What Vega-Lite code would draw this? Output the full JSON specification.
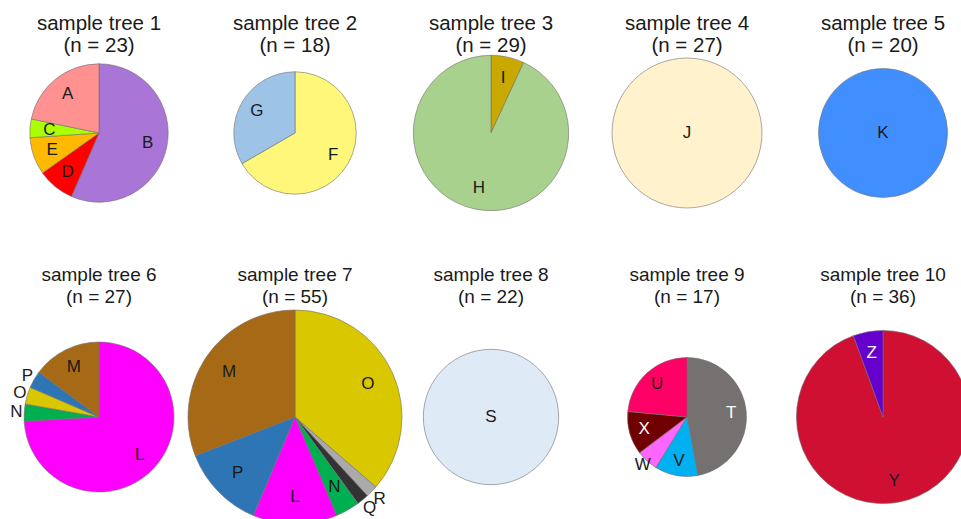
{
  "$schema": "https://vega.github.io/schema/vega-lite/v6.json",
  "padding": {"left": 10, "top": 13, "right": 0, "bottom": 0},
  "background": "white",
  "config": {"view": {"stroke": null}, "font": "Liberation Sans"},
  "data": {"values": [
    {"tree": 1, "panel": "sample tree 1|(n = 23)", "n": 23, "k": 1, "label": "B", "count": 13},
    {"tree": 1, "panel": "sample tree 1|(n = 23)", "n": 23, "k": 2, "label": "D", "count": 2},
    {"tree": 1, "panel": "sample tree 1|(n = 23)", "n": 23, "k": 3, "label": "E", "count": 2},
    {"tree": 1, "panel": "sample tree 1|(n = 23)", "n": 23, "k": 4, "label": "C", "count": 1},
    {"tree": 1, "panel": "sample tree 1|(n = 23)", "n": 23, "k": 5, "label": "A", "count": 5},
    {"tree": 2, "panel": "sample tree 2|(n = 18)", "n": 18, "k": 1, "label": "F", "count": 12},
    {"tree": 2, "panel": "sample tree 2|(n = 18)", "n": 18, "k": 2, "label": "G", "count": 6},
    {"tree": 3, "panel": "sample tree 3|(n = 29)", "n": 29, "k": 1, "label": "I", "count": 2},
    {"tree": 3, "panel": "sample tree 3|(n = 29)", "n": 29, "k": 2, "label": "H", "count": 27},
    {"tree": 4, "panel": "sample tree 4|(n = 27)", "n": 27, "k": 1, "label": "J", "count": 27},
    {"tree": 5, "panel": "sample tree 5|(n = 20)", "n": 20, "k": 1, "label": "K", "count": 20},
    {"tree": 6, "panel": "sample tree 6|(n = 27)", "n": 27, "k": 1, "label": "L", "count": 20},
    {"tree": 6, "panel": "sample tree 6|(n = 27)", "n": 27, "k": 2, "label": "N", "count": 1},
    {"tree": 6, "panel": "sample tree 6|(n = 27)", "n": 27, "k": 3, "label": "O", "count": 1},
    {"tree": 6, "panel": "sample tree 6|(n = 27)", "n": 27, "k": 4, "label": "P", "count": 1},
    {"tree": 6, "panel": "sample tree 6|(n = 27)", "n": 27, "k": 5, "label": "M", "count": 4},
    {"tree": 7, "panel": "sample tree 7|(n = 55)", "n": 55, "k": 1, "label": "O", "count": 20},
    {"tree": 7, "panel": "sample tree 7|(n = 55)", "n": 55, "k": 2, "label": "R", "count": 1},
    {"tree": 7, "panel": "sample tree 7|(n = 55)", "n": 55, "k": 3, "label": "Q", "count": 1},
    {"tree": 7, "panel": "sample tree 7|(n = 55)", "n": 55, "k": 4, "label": "N", "count": 2},
    {"tree": 7, "panel": "sample tree 7|(n = 55)", "n": 55, "k": 5, "label": "L", "count": 7},
    {"tree": 7, "panel": "sample tree 7|(n = 55)", "n": 55, "k": 6, "label": "P", "count": 7},
    {"tree": 7, "panel": "sample tree 7|(n = 55)", "n": 55, "k": 7, "label": "M", "count": 17},
    {"tree": 8, "panel": "sample tree 8|(n = 22)", "n": 22, "k": 1, "label": "S", "count": 22},
    {"tree": 9, "panel": "sample tree 9|(n = 17)", "n": 17, "k": 1, "label": "T", "count": 8},
    {"tree": 9, "panel": "sample tree 9|(n = 17)", "n": 17, "k": 2, "label": "V", "count": 2},
    {"tree": 9, "panel": "sample tree 9|(n = 17)", "n": 17, "k": 3, "label": "W", "count": 1},
    {"tree": 9, "panel": "sample tree 9|(n = 17)", "n": 17, "k": 4, "label": "X", "count": 2},
    {"tree": 9, "panel": "sample tree 9|(n = 17)", "n": 17, "k": 5, "label": "U", "count": 4},
    {"tree": 10, "panel": "sample tree 10|(n = 36)", "n": 36, "k": 1, "label": "Y", "count": 34},
    {"tree": 10, "panel": "sample tree 10|(n = 36)", "n": 36, "k": 2, "label": "Z", "count": 2}
  ]},
  "resolve": {"scale": {"radius": "independent"}},
  "spacing": 54,
  "vconcat": [
    {
      "transform": [{"filter": "datum.tree <= 5"}],
      "bounds": "flush",
      "facet": {"column": {"field": "panel", "type": "nominal", "sort": {"field": "tree", "op": "min"}, "title": null,
        "header": {"labelExpr": "split(datum.value, '|')", "labelFontSize": 20.5, "labelFont": "Liberation Sans", "labelColor": "#1a1a1a", "labelLineHeight": 22, "labelPadding": 10}}},
      "spacing": 40,
      "resolve": {"scale": {"radius": "independent"}},
      "spec": {
        "width": 156, "height": 134,
        "resolve": {"scale": {"radius": "independent"}},
        "layer": [
          {"mark": {"type": "arc", "stroke": "#707070", "strokeWidth": 0.6},
           "encoding": {
             "theta": {"field": "count", "type": "quantitative", "stack": true},
             "order": {"field": "k", "type": "quantitative"},
             "radius": {"field": "n", "type": "quantitative", "scale": {"type": "sqrt", "zero": true, "domain": [0, 55], "range": [0, 107]}},
             "color": {"field": "label", "type": "nominal", "legend": null,
               "scale": {"domain": ["A","B","C","D","E","F","G","H","I","J","K","L","M","N","O","P","Q","R","S","T","U","V","W","X","Y","Z"],
                 "range": ["#ff9191","#a975d6","#aaff00","#ff0000","#ffb900","#fff77a","#9dc3e6","#a9d18e","#c9a800","#fff2cc","#418fff","#ff00ff","#a66a16","#00b050","#d9c800","#2e75b6","#333333","#aaaaaa","#deebf7","#767171","#ff0066","#00b0f0","#ff66ff","#700000","#d01033","#6600cc"]}}
           }},
          {"mark": {"type": "text", "fontSize": 17, "font": "Liberation Sans"},
           "encoding": {
             "theta": {"field": "count", "type": "quantitative", "stack": true},
             "order": {"field": "k", "type": "quantitative"},
             "radius": {"field": "n", "type": "quantitative", "scale": {"type": "sqrt", "zero": true, "domain": [0, 55], "range": [0, 77]}},
             "text": {"condition": {"test": "datum.count == datum.n", "value": ""}, "field": "label", "type": "nominal"},
             "color": {"condition": {"test": "datum.label == 'T' || datum.label == 'X' || datum.label == 'Z'", "value": "white"}, "value": "#1a1a1a"}
           }},
          {"transform": [{"filter": "datum.count == datum.n"}],
           "mark": {"type": "text", "fontSize": 17, "font": "Liberation Sans", "color": "#1a1a1a"},
           "encoding": {"text": {"field": "label", "type": "nominal"}}}
        ]
      }
    },
    {
      "transform": [{"filter": "datum.tree > 5"}],
      "bounds": "flush",
      "facet": {"column": {"field": "panel", "type": "nominal", "sort": {"field": "tree", "op": "min"}, "title": null,
        "header": {"labelExpr": "split(datum.value, '|')", "labelFontSize": 19, "labelFont": "Liberation Sans", "labelColor": "#1a1a1a", "labelLineHeight": 22, "labelPadding": 15}}},
      "spacing": 40,
      "resolve": {"scale": {"radius": "independent"}},
      "spec": {
        "width": 156, "height": 190,
        "resolve": {"scale": {"radius": "independent"}},
        "layer": [
          {"mark": {"type": "arc", "stroke": "#707070", "strokeWidth": 0.6},
           "encoding": {
             "theta": {"field": "count", "type": "quantitative", "stack": true},
             "order": {"field": "k", "type": "quantitative"},
             "radius": {"field": "n", "type": "quantitative", "scale": {"type": "sqrt", "zero": true, "domain": [0, 55], "range": [0, 107]}},
             "color": {"field": "label", "type": "nominal", "legend": null}
           }},
          {"mark": {"type": "text", "fontSize": 17, "font": "Liberation Sans"},
           "encoding": {
             "theta": {"field": "count", "type": "quantitative", "stack": true},
             "order": {"field": "k", "type": "quantitative"},
             "radius": {"field": "n", "type": "quantitative", "scale": {"type": "sqrt", "zero": true, "domain": [0, 55], "range": [0, 80]}},
             "text": {"condition": {"test": "datum.count == datum.n || (datum.tree == 6 && (datum.label == 'N' || datum.label == 'O' || datum.label == 'P')) || (datum.tree == 7 && (datum.label == 'Q' || datum.label == 'R')) || (datum.tree == 9 && datum.label == 'W')", "value": ""}, "field": "label", "type": "nominal"},
             "color": {"condition": {"test": "datum.label == 'T' || datum.label == 'X' || datum.label == 'Z'", "value": "white"}, "value": "#1a1a1a"}
           }},
          {"mark": {"type": "text", "fontSize": 17, "font": "Liberation Sans", "color": "#1a1a1a"},
           "encoding": {
             "theta": {"field": "count", "type": "quantitative", "stack": true},
             "order": {"field": "k", "type": "quantitative"},
             "radius": {"field": "n", "type": "quantitative", "scale": {"type": "sqrt", "zero": true, "domain": [0, 55], "range": [0, 118]}},
             "text": {"condition": {"test": "(datum.tree == 6 && (datum.label == 'N' || datum.label == 'O' || datum.label == 'P')) || (datum.tree == 7 && (datum.label == 'Q' || datum.label == 'R')) || (datum.tree == 9 && datum.label == 'W')", "field": "label", "type": "nominal"}, "value": ""}
           }},
          {"transform": [{"filter": "datum.count == datum.n"}],
           "mark": {"type": "text", "fontSize": 17, "font": "Liberation Sans", "color": "#1a1a1a"},
           "encoding": {"text": {"field": "label", "type": "nominal"}}}
        ]
      }
    }
  ]
}
